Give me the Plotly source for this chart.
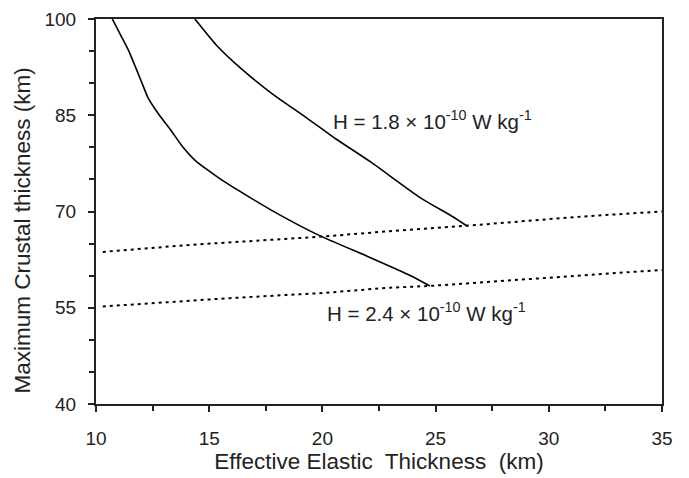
import plotly.graph_objects as go

# H = 2.4e-10 curve (solid)
te_24 = [10.72, 11.1, 11.45, 12.0, 12.3, 12.8, 13.3, 13.8, 14.4, 15.6, 17.7, 19.9, 22.0, 23.9, 24.75]
tc_24 = [100.0, 97.4, 95.0, 90.3, 87.7, 85.0, 82.7, 80.2, 77.9, 74.8, 70.3, 66.2, 63.0, 60.0, 58.4]

# H = 1.8e-10 curve (solid)
te_18 = [14.37, 15.3, 16.4, 17.8, 19.3, 20.6, 22.1, 24.3, 25.8, 26.4]
tc_18 = [100.0, 96.0, 92.3, 88.3, 84.6, 81.3, 77.8, 72.2, 69.1, 67.7]

# dotted limits
te_dot_hi = [10.3, 14.15, 20.04, 22.84, 26.45, 31.4, 35.0]
tc_dot_hi = [63.7, 64.8, 66.1, 66.9, 67.8, 69.2, 70.0]
te_dot_lo = [10.3, 15.9, 20.04, 22.84, 24.75, 29.9, 35.0]
tc_dot_lo = [55.2, 56.5, 57.3, 58.1, 58.4, 59.6, 60.9]

x_ticks = [10, 15, 20, 25, 30, 35]
y_ticks = [40, 55, 70, 85, 100]

FONT = "Liberation Sans, Arial, sans-serif"

fig = go.Figure()
solid = dict(color="black", width=1.6)
dotted = dict(color="black", width=2, dash="3px,4px")
fig.add_trace(go.Scatter(x=te_24, y=tc_24, mode="lines", line=dict(solid, shape="spline", smoothing=0.5), showlegend=False))
fig.add_trace(go.Scatter(x=te_18, y=tc_18, mode="lines", line=dict(solid, shape="spline", smoothing=0.5), showlegend=False))
fig.add_trace(go.Scatter(x=te_dot_hi, y=tc_dot_hi, mode="lines", line=dotted, showlegend=False))
fig.add_trace(go.Scatter(x=te_dot_lo, y=tc_dot_lo, mode="lines", line=dotted, showlegend=False))

fig.add_annotation(x=24.85, y=84.2, text="H = 1.8 × 10<sup>-10</sup> W kg<sup>-1</sup>",
                   showarrow=False, font=dict(size=20.5, color="#222", family=FONT))
fig.add_annotation(x=24.6, y=54.3, text="H = 2.4 × 10<sup>-10</sup> W kg<sup>-1</sup>",
                   showarrow=False, font=dict(size=20.5, color="#222", family=FONT))
# y-axis title
fig.add_annotation(x=0, y=0.5, xref="paper", yref="paper", xshift=-74, yshift=-19, textangle=-90,
                   text="Maximum Crustal thickness (km)", showarrow=False,
                   xanchor="center", yanchor="middle",
                   font=dict(size=22.5, color="#222", family=FONT))

# page body has an 8px margin, so margins are shifted to compensate
fig.update_layout(
    width=689, height=478,
    margin=dict(l=88, r=35, t=11, b=82),
    paper_bgcolor="white", plot_bgcolor="white",
    font=dict(family=FONT, color="#222", size=19),
    xaxis=dict(range=[10, 35], tickvals=x_ticks, ticks="outside", ticklen=6, tickwidth=1.5,
               tickcolor="#222", showline=True, linewidth=2, linecolor="#222", mirror=True,
               showgrid=False, zeroline=False, ticklabelstandoff=10, automargin=False,
               minor=dict(dtick=2.5, tick0=10, ticks="outside", ticklen=5, tickwidth=1.5, tickcolor="#222"),
               title=dict(text="Effective Elastic  Thickness  (km)", font=dict(size=22.5), standoff=5)),
    yaxis=dict(range=[40, 100], tickvals=y_ticks, ticks="outside", ticklen=6, tickwidth=1.5,
               tickcolor="#222", showline=True, linewidth=2, linecolor="#222", mirror=True,
               showgrid=False, zeroline=False, ticklabelstandoff=8, automargin=False,
               minor=dict(dtick=5, tick0=40, ticks="outside", ticklen=5, tickwidth=1.5, tickcolor="#222")),
)

fig.write_html("out.html")
